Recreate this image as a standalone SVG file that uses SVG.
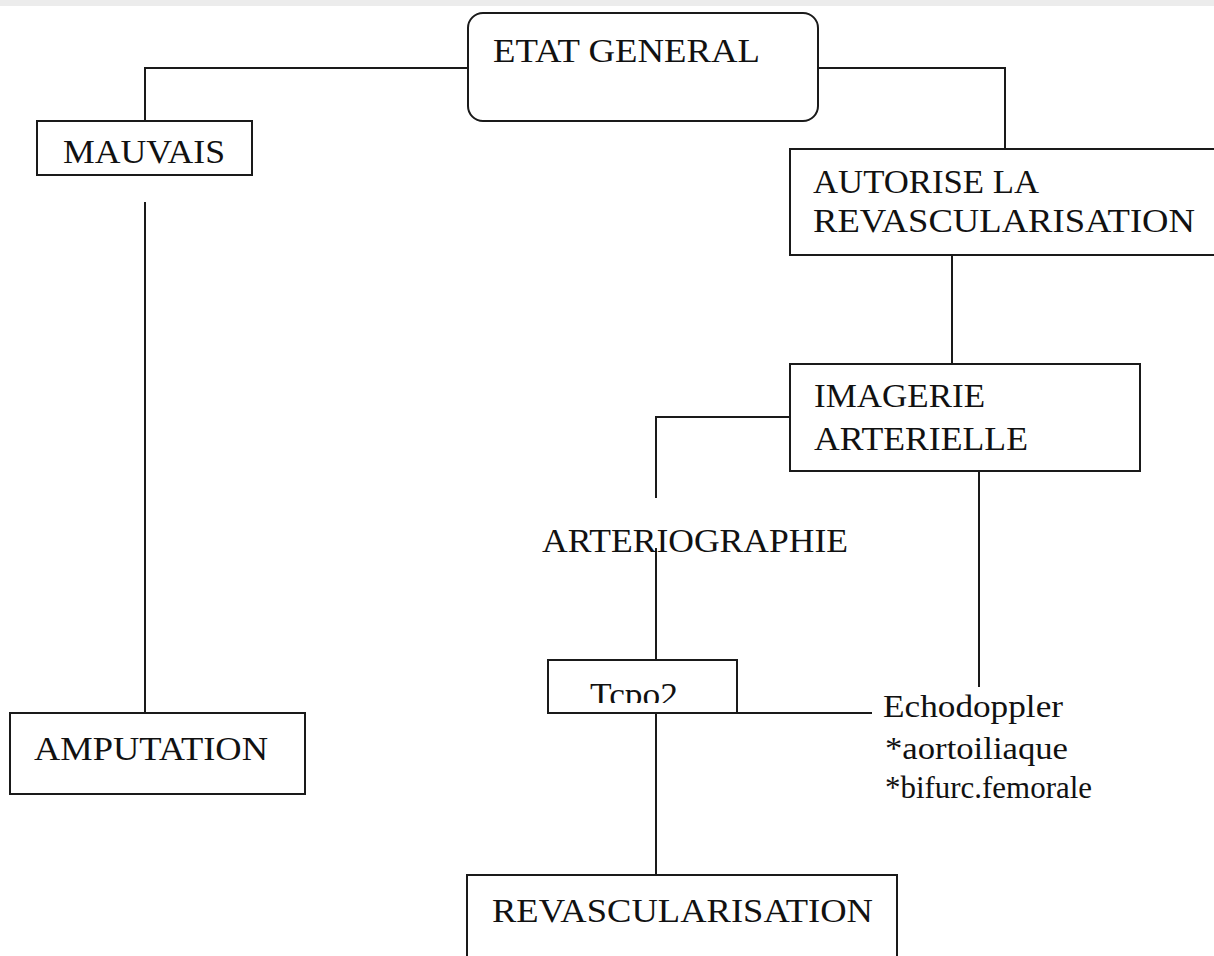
<svg xmlns="http://www.w3.org/2000/svg" width="1214" height="956" viewBox="0 0 1214 956">
<style>
.box{fill:#fff;stroke:#1a1a1a;stroke-width:2}
.ln{fill:none;stroke:#1a1a1a;stroke-width:2}
.t{font-family:"Liberation Serif","Times New Roman",serif;font-size:34px;fill:#111}
.s{font-family:"Liberation Serif","Times New Roman",serif;font-size:31px;fill:#111}
</style>
<defs>
<clipPath id="clipT"><rect x="549" y="661" width="187" height="42"/></clipPath>
</defs>
<rect x="0" y="0" width="1214" height="956" fill="#fff"/>
<rect x="0" y="0" width="1214" height="6" fill="#ececec"/>
<g id="connectors">
<path class="ln" d="M468,68 H145 V121"/>
<path class="ln" d="M145,202 V712"/>
<path class="ln" d="M818,68 H1005 V149"/>
<path class="ln" d="M952,255 V364"/>
<path class="ln" d="M790,417 H656 V498"/>
<path class="ln" d="M656,548 V660"/>
<path class="ln" d="M979,471 V687"/>
<path class="ln" d="M737,713 H872"/>
<path class="ln" d="M656,713 V875"/>
</g>
<g id="etat">
<rect class="box" x="468" y="13" width="350" height="108" rx="15" ry="15"/>
<text class="t" x="493" y="62" textLength="267" lengthAdjust="spacingAndGlyphs">ETAT GENERAL</text>
</g>
<g id="mauvais">
<rect class="box" x="37" y="121" width="215" height="54"/>
<text class="t" x="63" y="163" textLength="162" lengthAdjust="spacingAndGlyphs">MAUVAIS</text>
</g>
<g id="amputation">
<rect class="box" x="10" y="713" width="295" height="81"/>
<text class="t" x="34" y="760" textLength="234" lengthAdjust="spacingAndGlyphs">AMPUTATION</text>
</g>
<g id="autorise">
<rect class="box" x="790" y="149" width="440" height="106"/>
<text class="t" x="813" y="193" textLength="226" lengthAdjust="spacingAndGlyphs">AUTORISE LA</text>
<text class="t" x="813" y="232" textLength="382" lengthAdjust="spacingAndGlyphs">REVASCULARISATION</text>
</g>
<g id="imagerie">
<rect class="box" x="790" y="364" width="350" height="107"/>
<text class="t" x="814" y="407" textLength="171" lengthAdjust="spacingAndGlyphs">IMAGERIE</text>
<text class="t" x="814" y="450" textLength="214" lengthAdjust="spacingAndGlyphs">ARTERIELLE</text>
</g>
<g id="arteriographie">
<text class="t" x="542" y="552" textLength="306" lengthAdjust="spacingAndGlyphs">ARTERIOGRAPHIE</text>
</g>
<g id="tcpo2">
<rect class="box" x="548" y="660" width="189" height="53"/>
<text class="t" x="590" y="706" textLength="88" lengthAdjust="spacingAndGlyphs" clip-path="url(#clipT)">Tcpo2</text>
</g>
<g id="echodoppler">
<text class="s" x="883" y="717" textLength="180" lengthAdjust="spacingAndGlyphs">Echodoppler</text>
<text class="s" x="885" y="759" textLength="183" lengthAdjust="spacingAndGlyphs">*aortoiliaque</text>
<text class="s" x="885" y="798" textLength="207" lengthAdjust="spacingAndGlyphs">*bifurc.femorale</text>
</g>
<g id="revascularisation">
<rect class="box" x="467" y="875" width="430" height="100"/>
<text class="t" x="492" y="922" textLength="381" lengthAdjust="spacingAndGlyphs">REVASCULARISATION</text>
</g>
</svg>
